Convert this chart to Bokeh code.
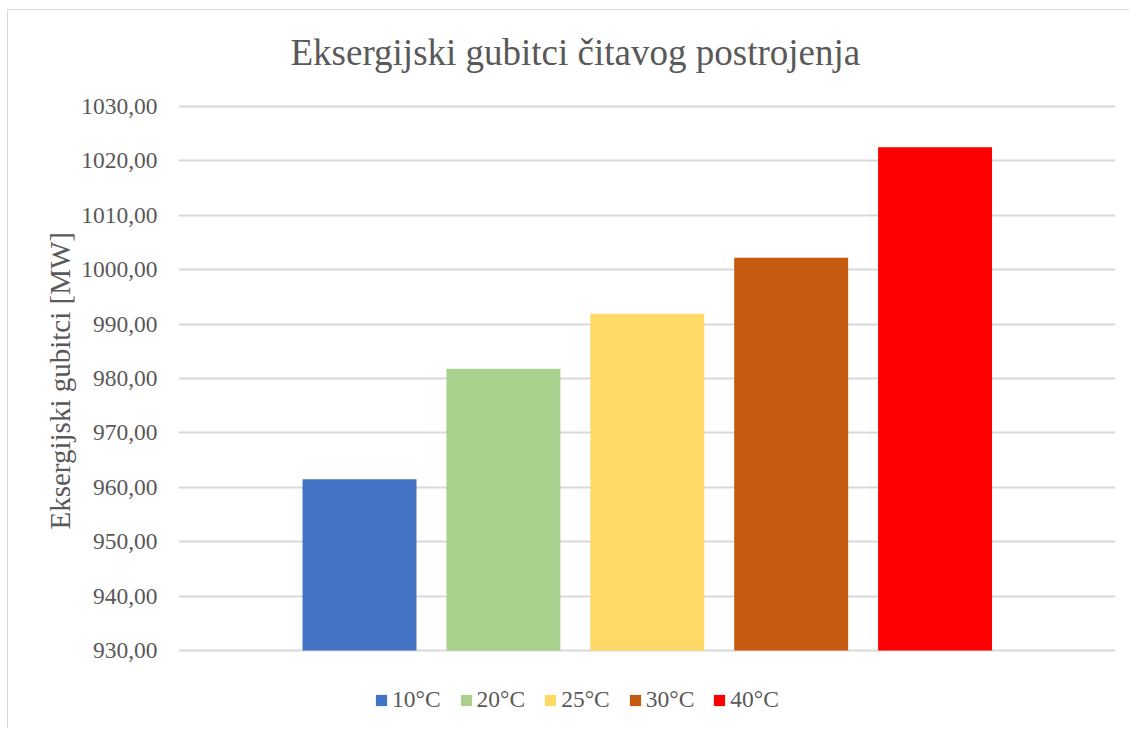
from bokeh.plotting import figure
from bokeh.models import (Range1d, FixedTicker, Legend, LegendItem, ColumnDataSource,
                          Label, Title)
from bokeh.embed import file_html
from bokeh.resources import INLINE

# ---- data ----
series = ["10°C", "20°C", "25°C", "30°C", "40°C"]
values = [961.5, 981.8, 991.9, 1002.2, 1022.5]
colors = ["#4472C4", "#A9D18E", "#FFD966", "#C55A11", "#FF0000"]
y_ticks = [930, 940, 950, 960, 970, 980, 990, 1000, 1010, 1020, 1030]
y_tick_labels = ["930,00", "940,00", "950,00", "960,00", "970,00", "980,00",
                 "990,00", "1000,00", "1010,00", "1020,00", "1030,00"]
y_min = 930
y_max = 1030
chart_title = "Eksergijski gubitci čitavog postrojenja"
y_title = "Eksergijski gubitci [MW]"

FONT = "Liberation Serif"
TXT = "#595959"
GRID = "#d9d9d9"

# layout (pixels)
W, H = 1122, 719
PX_PER_UNIT = 5.44      # vertical scale of the value axis
ROOM_TOP = 96           # space above the top gridline (title area)
ROOM_BOTTOM = 79        # space below the bottom gridline (legend area)

n = len(series)
p = figure(width=W, height=H, output_backend="svg", toolbar_location=None, title=None,
           x_range=Range1d(-1.258, n - 1 + 1.254),
           y_range=Range1d(y_min - ROOM_BOTTOM / PX_PER_UNIT, y_max + ROOM_TOP / PX_PER_UNIT),
           x_axis_type=None,
           min_border_left=170, min_border_right=15, min_border_top=0, min_border_bottom=0,
           styles={"margin-left": "7px", "margin-top": "9px",
                   "border-left": "1px solid #d9d9d9", "border-top": "1px solid #d9d9d9"})
p.outline_line_color = None
p.background_fill_color = "white"
p.border_fill_color = "white"

src = ColumnDataSource(dict(x=list(range(n)), top=values, series=series, color=colors))
r = p.vbar(x="x", top="top", bottom=y_min, width=0.792, fill_color="color",
           line_color=None, source=src)

ticker = FixedTicker(ticks=y_ticks)
ax = p.yaxis[0]
ax.ticker = ticker
ax.major_label_overrides = {t: l for t, l in zip(y_ticks, y_tick_labels)}
ax.axis_line_color = None
ax.major_tick_line_color = None
ax.minor_tick_line_color = None
ax.major_tick_out = 0
ax.major_tick_in = 0
ax.minor_tick_out = 0
ax.minor_tick_in = 0
ax.major_label_standoff = 21
ax.major_label_text_font = FONT
ax.major_label_text_font_size = "23.5px"
ax.major_label_text_color = TXT

p.ygrid.ticker = ticker
p.ygrid.grid_line_color = GRID
p.ygrid.grid_line_width = 2

ytitle = Title(text=y_title, align="left", offset=200, standoff=6,
               text_font=FONT, text_font_size="29px", text_font_style="normal",
               text_color=TXT)
p.add_layout(ytitle, "left")

title = Label(text=chart_title, x=112, y=H - 42, x_units="screen", y_units="screen",
              text_align="left", text_baseline="alphabetic",
              text_font=FONT, text_font_size="37px", text_color=TXT)
p.add_layout(title)

items = [LegendItem(label=s, renderers=[r], index=i) for i, s in enumerate(series)]
legend = Legend(items=items, orientation="horizontal", location=(196, 16),
                glyph_width=14, glyph_height=14, label_standoff=4, spacing=18,
                padding=0, margin=0, border_line_color=None, background_fill_alpha=0,
                label_text_font=FONT, label_text_font_size="23.5px", label_text_color=TXT)
p.add_layout(legend, "center")

open("out.html", "w").write(file_html(p, INLINE))
